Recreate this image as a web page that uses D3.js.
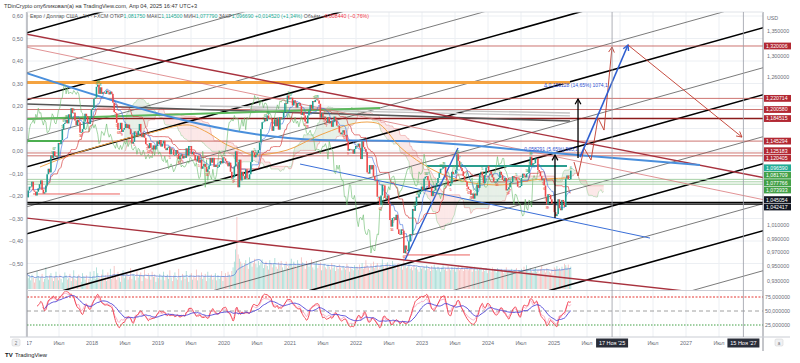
<!DOCTYPE html>
<html>
<head>
<meta charset="utf-8">
<script src="https://cdn.jsdelivr.net/npm/d3@7"></script>
<style>
body { margin: 0; background: #fff; }
svg { display: block; font-family: "Liberation Sans", Arial, sans-serif; }
</style>
</head>
<body>
<svg id="chart" width="800" height="363"></svg>
<script>
// ---- weekly closes EUR/USD, Fridays from 06 Jan 2017 ----
var c2017 = [1.053,1.064,1.070,1.070, 1.078,1.064,1.062,1.056, 1.062,1.067,1.074,1.080,1.065, 1.059,1.061,1.072,1.090, 1.099,1.093,1.121,1.117, 1.128,1.120,1.120,1.119,1.142, 1.140,1.147,1.166,1.175, 1.177,1.182,1.176,1.192, 1.186,1.203,1.194,1.195,1.181, 1.173,1.182,1.178,1.160, 1.161,1.166,1.179,1.193, 1.189,1.177,1.175,1.186,1.200];
var c2018 = [1.203,1.220,1.222,1.242, 1.246,1.229,1.241,1.229, 1.232,1.231,1.229,1.235,1.232, 1.228,1.233,1.229,1.213, 1.196,1.194,1.177,1.165, 1.166,1.177,1.161,1.165,1.168, 1.175,1.168,1.174,1.166, 1.157,1.141,1.144,1.162,1.160, 1.155,1.163,1.175,1.160, 1.152,1.157,1.151,1.140, 1.138,1.133,1.142,1.134,1.131, 1.138,1.131,1.137,1.145];
var c2019 = [1.140,1.147,1.136,1.141, 1.146,1.133,1.130,1.134, 1.136,1.123,1.133,1.131,1.122, 1.122,1.130,1.124,1.115, 1.120,1.123,1.116,1.120,1.117, 1.133,1.121,1.137,1.137, 1.123,1.127,1.122,1.113, 1.111,1.120,1.109,1.114,1.099, 1.103,1.107,1.102,1.094, 1.098,1.104,1.117,1.109, 1.117,1.102,1.105,1.102,1.102, 1.106,1.112,1.108,1.118];
var c2020 = [1.116,1.112,1.109,1.103,1.109, 1.094,1.083,1.085,1.103, 1.128,1.110,1.069,1.114, 1.080,1.094,1.087,1.082, 1.098,1.084,1.082,1.090,1.110, 1.129,1.126,1.118,1.122, 1.125,1.130,1.143,1.166,1.178, 1.179,1.184,1.180,1.190, 1.184,1.185,1.184,1.163, 1.171,1.183,1.171,1.186,1.165, 1.187,1.183,1.186,1.196, 1.212,1.211,1.226,1.219];
var c2021 = [1.222,1.222,1.208,1.217,1.213, 1.204,1.212,1.212,1.207, 1.191,1.195,1.190,1.179, 1.176,1.190,1.198,1.209,1.202, 1.216,1.214,1.218,1.219, 1.217,1.211,1.186,1.194, 1.186,1.188,1.181,1.177,1.187, 1.176,1.180,1.170,1.179, 1.188,1.181,1.172,1.172, 1.160,1.157,1.160,1.164,1.156, 1.156,1.145,1.129,1.132, 1.131,1.131,1.124,1.132,1.137];
var c2022 = [1.136,1.141,1.134,1.115, 1.145,1.135,1.132,1.127, 1.093,1.091,1.105,1.098, 1.105,1.087,1.080,1.080,1.054, 1.054,1.041,1.056,1.073, 1.072,1.052,1.050,1.056, 1.043,1.018,1.008,1.021,1.022, 1.018,1.026,1.004,0.997, 0.996,1.004,1.002,0.969,0.980, 0.974,0.972,0.986,0.997, 0.996,1.035,1.032,1.040, 1.054,1.053,1.058,1.062,1.070];
var c2023 = [1.065,1.083,1.086,1.087, 1.080,1.068,1.069,1.055, 1.063,1.064,1.070,1.076,1.084, 1.092,1.099,1.099,1.102, 1.102,1.085,1.080,1.072, 1.071,1.075,1.094,1.090,1.091, 1.097,1.123,1.112,1.102, 1.100,1.095,1.087,1.080, 1.078,1.070,1.066,1.065,1.057, 1.059,1.051,1.059,1.056, 1.073,1.068,1.091,1.094, 1.088,1.076,1.089,1.101,1.104];
var c2024 = [1.094,1.095,1.090,1.085, 1.078,1.078,1.078,1.082, 1.084,1.094,1.089,1.081,1.079, 1.084,1.064,1.066,1.069, 1.076,1.077,1.087,1.085,1.085, 1.080,1.070,1.069,1.071, 1.084,1.091,1.088,1.085, 1.091,1.092,1.103,1.119,1.105, 1.108,1.108,1.116,1.116, 1.097,1.094,1.087,1.080, 1.083,1.072,1.054,1.042,1.058, 1.057,1.050,1.043,1.043];
var c2025 = [1.030,1.024,1.027,1.050,1.036, 1.033,1.049,1.046,1.038, 1.083,1.088,1.082,1.082, 1.096];

var v2017 = [22,15,18,12,20,16,9,14,25,18,12,16,21,10,14,30,17,13,19,22,15,11,18,24,16,12,20,14,9,17,23,19,13,15,21,11,16,26,14,12,18,20,15,10,22,17,13,19,8,14,24,12];
var v2018 = [18,25,14,30,22,16,12,20,27,15,19,11,23,17,28,14,21,32,18,13,24,16,10,20,26,15,19,22,13,17,29,14,21,18,12,25,16,20,23,11,19,27,15,14,22,18,13,24,17,20,10,16];
var v2019 = [15,21,13,18,24,12,17,20,14,26,16,11,19,23,15,13,28,17,12,21,18,14,25,16,10,20,22,13,18,15,27,12,19,16,23,14,17,21,11,24,15,18,20,13,16,22,12,19,14,17,25,11];
var v2020 = [18,22,16,24,20,17,25,30,38,55,100,48,42,38,35,30,36,40,33,28,44,38,31,36,42,35,30,39,33,37,41,29,34,38,32,27,40,36,30,35,43,31,28,37,33,39,30,26,34,38,29,32];
var v2021 = [36,42,31,38,33,29,40,35,30,44,37,32,28,39,34,31,36,41,30,27,35,38,29,33,37,26,32,35,30,28,34,31,27,36,29,33,25,31,28,34,30,26,32,29,27,35,31,24,30,28,26,33,29];
var v2022 = [31,27,34,29,36,28,32,40,33,30,26,35,31,38,29,33,36,27,30,34,41,32,28,35,37,30,33,29,39,34,31,28,35,36,30,33,27,45,35,29,31,34,28,30,26,33,29,31,27,24,30,28];
var v2023 = [29,31,26,33,28,30,25,32,27,34,29,26,31,28,24,30,33,27,29,25,32,28,26,31,27,30,24,29,33,26,28,31,25,29,27,32,26,28,30,24,27,31,25,29,26,28,30,24,27,25,29,22];
var v2024 = [26,28,24,30,25,27,23,29,26,24,28,25,22,27,30,24,26,23,28,25,21,27,29,24,26,22,28,25,31,27,33,26,24,29,25,23,27,30,24,26,22,28,32,25,27,23,29,26,24,22,27,20];
var v2025 = [30,28,32,27,29,26,31,28,35,33,30,34,29,31];

// price levels drawn on the right scale
var levelValues = [1.320006, 1.220714, 1.200580, 1.184515, 1.145294, 1.125183, 1.120405, 1.096590, 1.081709, 1.077766, 1.073933, 1.045054, 1.042417];
var levelKinds  = ["red","red","red","dark","red","red","red","last","green","green","green","black","black"];
var rightTicks = [1.35, 1.30, 1.26, 1.01, 0.99, 0.97, 0.95, 0.93];
var leftTicks = [0.6, 0.5, 0.4, 0.3, 0.2, 0.1, 0, -0.1, -0.2, -0.3, -0.4, -0.5];
var oscTicks = [75, 50, 25];
var tickYears = [2017, 2018, 2019, 2020, 2021, 2022, 2023, 2024, 2025, 2026, 2027];
var markerDates = [2025.88, 2027.87];
var markerTexts = ["17 Ноя '25", "15 Ноя '27"];

// drawings on the left scale: [year, value]
var channelSlope = 0.0821;            // per year
var channelThick = [0.5244, 0.2267, -0.0711, -0.3689, -0.6667, -0.9733, -1.2711];
var channelThin  = [0.6444, 0.3467, 0.0489, -0.2489, -0.5467, -0.8533, -1.1511, -1.4489];
var redLines = [
  [[2017.0, 0.520], [2028.2, -0.120]],
  [[2017.0, 0.462], [2028.2, -0.218]],
  [[2017.0, -0.298], [2028.2, -0.662]]
];
var blueCurve = [[2017.0, 0.347], [2021.455, 0.049], [2022.667, 0.044], [2025.348, -0.018], [2027.212, -0.062]];
var blueUp = [[2022.742, -0.484], [2023.545, 0.013]];
var blueDown = [[2021.152, -0.058], [2026.455, -0.387]];
var orangeLevel = [[2017.0, 0.3044], [2025.242, 0.3044]];
var orangeCurve = [[2017.212,-0.071],[2017.561,-0.031],[2018.167,0.027],[2018.924,0.084],[2019.439,0.116],[2019.742,0.084],[2020.045,0.027],[2020.242,0.004],[2020.439,-0.018],[2020.955,0.004],[2021.455,0.071],[2022.167,0.129],[2022.318,0.124],[2022.667,0.018],[2023.167,-0.084],[2023.773,-0.142],[2024.182,-0.151],[2024.682,-0.129],[2025.197,-0.120]];
var greyDark = [[2017.0, 0.209], [2025.242, 0.133]];
var greyLight = [[[2019.636, 0.200], [2025.242, 0.169]], [[2020.394, 0.187], [2025.242, 0.156]]];
var greenLong = [[2017.0, 0.142], [2022.364, 0.191]];
var greenShort = [[2017.0, 0.044], [2017.545, 0.044]];
var tealLevel = [[2023.076, -0.067], [2025.197, -0.067]];
var redRays = [[[2017.106, -0.191], [2018.424, -0.191]], [[2022.773, -0.462], [2023.727, -0.462]]];
var blackArrows = [[[2025.015, -0.298], [2025.015, -0.018]], [[2025.364, -0.031], [2025.364, 0.231]]];
var measureTexts = ["0,058291 (5,65%) 583,1", "Δ 0,159128 (14,65%) 1074,1"];
var measureAt = [[2024.55, 0.0], [2024.85, 0.285]];
var redZig = [[2025.303,-0.049],[2025.364,-0.111],[2025.455,0.013],[2025.561,-0.040],[2025.667,0.147],[2025.758,0.093],[2025.879,0.462]];
var blueProj = [[2025.394, -0.027], [2026.121, 0.471]];
var redProj = [[2026.121, 0.471], [2027.848, 0.062]];

// ---------------------------------------------------------------
var closes = [].concat(c2017, c2018, c2019, c2020, c2021, c2022, c2023, c2024, c2025);
var vols = [].concat(v2017, v2018, v2019, v2020, v2021, v2022, v2023, v2024, v2025);
var wt = function (i) { return 2017 + 5 / 365 + i * 7 / 365.25; };

var PL = 27, PR = 763, MT = 12, MB = 290, OT = 291, OB = 337;

var svg = d3.select("#chart");
var x = d3.scaleLinear().domain([2017, 2028]).range([26, 752]);
var yP = d3.scaleLog().domain([1.32, 0.93]).range([46, 280.6]);
var yL = d3.scaleLinear().domain([0.6, -0.5]).range([16, 263.5]);
var yO = d3.scaleLinear().domain([0, 100]).range([339, 283]);
var yV = d3.scaleLinear().domain([0, 100]).range([289, 217]);

var comma = function (s) { return s.replace(".", ",").replace("-", "−"); };

var defs = svg.append("defs");
defs.append("clipPath").attr("id", "cm").append("rect")
    .attr("x", PL).attr("y", MT).attr("width", PR - PL).attr("height", MB - MT);
defs.append("clipPath").attr("id", "co").append("rect")
    .attr("x", PL).attr("y", OT).attr("width", PR - PL).attr("height", OB - OT);
defs.append("clipPath").attr("id", "ct").append("rect")
    .attr("x", PL).attr("y", OB).attr("width", PR - PL).attr("height", 14);

// grid
var grid = svg.append("g").attr("stroke", "#eceff3").attr("stroke-width", 1);
tickYears.forEach(function (yr) {
    [yr, yr + 0.5].forEach(function (t) {
        grid.append("line").attr("x1", x(t)).attr("x2", x(t)).attr("y1", MT).attr("y2", OB);
    });
});
leftTicks.forEach(function (v) {
    grid.append("line").attr("x1", PL).attr("x2", PR).attr("y1", yL(v)).attr("y2", yL(v));
});

var main = svg.append("g").attr("clip-path", "url(#cm)");
var lineL = d3.line().x(function (d) { return x(d[0]); }).y(function (d) { return yL(d[1]); });

// ichimoku from closes
function mid(n, i) {
    var s = closes.slice(Math.max(0, i - n + 1), i + 1);
    return (d3.max(s) + d3.min(s)) / 2;
}
var cloud = [];
for (var i = 51; i < closes.length; i++) {
    var a = (mid(9, i) + mid(26, i)) / 2, b = mid(52, i);
    cloud.push({ t: wt(i + 26), a: a, b: b });
}
var cg = main.append("g");
for (var k = 1; k < cloud.length; k++) {
    var p = cloud[k - 1], q = cloud[k];
    var pts = [[x(p.t), yP(p.a)], [x(q.t), yP(q.a)], [x(q.t), yP(q.b)], [x(p.t), yP(p.b)]];
    cg.append("path").attr("d", "M" + pts.join("L") + "Z")
        .attr("fill", q.a >= q.b ? "rgba(120,170,120,0.18)" : "rgba(239,110,110,0.16)")
        .attr("stroke", "none");
}
var lineP = d3.line().x(function (d) { return x(d[0]); }).y(function (d) { return yP(d[1]); });
main.append("path").attr("d", lineP(cloud.map(function (d) { return [d.t, d.a]; })))
    .attr("fill", "none").attr("stroke", "#81c784").attr("stroke-width", 0.6).attr("opacity", 0.7);
main.append("path").attr("d", lineP(cloud.map(function (d) { return [d.t, d.b]; })))
    .attr("fill", "none").attr("stroke", "#e57373").attr("stroke-width", 0.6).attr("opacity", 0.7);

// volume
var volG = main.append("g").attr("opacity", 0.75);
vols.forEach(function (v, i) {
    if (i >= closes.length) return;
    var up = i === 0 || closes[i] >= closes[i - 1];
    volG.append("rect").attr("x", x(wt(i)) - 0.45).attr("width", 0.9)
        .attr("y", yV(v)).attr("height", yV(0) - yV(v))
        .attr("fill", up ? "#8fd3ca" : "#f4b0ae");
});
var volMa = vols.map(function (v, i) { return [wt(i), d3.mean(vols.slice(Math.max(0, i - 19), i + 1))]; });
main.append("path").attr("d", d3.line().x(function (d) { return x(d[0]); }).y(function (d) { return yV(d[1]); })(volMa))
    .attr("fill", "none").attr("stroke", "#5c7fd6").attr("stroke-width", 0.8);

// black channel
channelThick.forEach(function (v0) {
    main.append("path").attr("d", lineL([[2017, v0], [2028.2, v0 + channelSlope * 11.2]]))
        .attr("stroke", "#000").attr("stroke-width", 1.6).attr("fill", "none");
});
channelThin.forEach(function (v0) {
    main.append("path").attr("d", lineL([[2017, v0], [2028.2, v0 + channelSlope * 11.2]]))
        .attr("stroke", "#222").attr("stroke-width", 0.6).attr("fill", "none");
});

// horizontal levels
var levelStyle = {
    red:   { stroke: "#c0504d", w: 0.8, bg: "#b22833" },
    dark:  { stroke: "#8b1a1a", w: 1.4, bg: "#b22833" },
    last:  { stroke: "#26a69a", w: 0, bg: "#22ab94" },
    green: { stroke: "#9ccc9c", w: 0.9, bg: "#43a047" },
    black: { stroke: "#000", w: 1.4, bg: "#131722" }
};
levelValues.forEach(function (v, i) {
    var s = levelStyle[levelKinds[i]];
    if (!s.w) return;
    main.append("line").attr("x1", PL).attr("x2", PR).attr("y1", yP(v)).attr("y2", yP(v))
        .attr("stroke", s.stroke).attr("stroke-width", s.w);
});

// other drawings
main.append("path").attr("d", lineL(orangeLevel)).attr("stroke", "#f4a340").attr("stroke-width", 3).attr("fill", "none");
main.append("path").attr("d", lineL(greyDark)).attr("stroke", "#555").attr("stroke-width", 1.6).attr("fill", "none");
greyLight.forEach(function (l) {
    main.append("path").attr("d", lineL(l)).attr("stroke", "#c4c4c4").attr("stroke-width", 1.4).attr("fill", "none");
});
main.append("path").attr("d", lineL(greenLong)).attr("stroke", "#5cb85c").attr("stroke-width", 2).attr("fill", "none");
main.append("path").attr("d", lineL(greenShort)).attr("stroke", "#4caf50").attr("stroke-width", 2).attr("fill", "none");
main.append("path").attr("d", lineL(tealLevel)).attr("stroke", "#2a9d8f").attr("stroke-width", 2).attr("fill", "none");
redRays.forEach(function (l) {
    main.append("path").attr("d", lineL(l)).attr("stroke", "#e53935").attr("stroke-width", 0.8).attr("fill", "none");
});
redLines.forEach(function (l, i) {
    main.append("path").attr("d", lineL(l)).attr("fill", "none")
        .attr("stroke", i === 1 ? "#d9777a" : "#a8323e").attr("stroke-width", i === 1 ? 0.8 : 1.4);
});
main.append("path").attr("d", d3.line().curve(d3.curveMonotoneX).x(function (d) { return x(d[0]); }).y(function (d) { return yL(d[1]); })(blueCurve))
    .attr("stroke", "#4a8fdc").attr("stroke-width", 2).attr("fill", "none");
main.append("path").attr("d", d3.line().curve(d3.curveMonotoneX).x(function (d) { return x(d[0]); }).y(function (d) { return yL(d[1]); })(orangeCurve))
    .attr("stroke", "#f0a44b").attr("stroke-width", 1).attr("fill", "none");
main.append("path").attr("d", lineL(blueUp)).attr("stroke", "#2f5fd0").attr("stroke-width", 1.4).attr("fill", "none");
main.append("path").attr("d", lineL(blueDown)).attr("stroke", "#3a6fd8").attr("stroke-width", 1).attr("fill", "none");

// indicator lines on price
var tenkan = closes.map(function (c, i) { return [wt(i), mid(9, i)]; });
var kijun = closes.map(function (c, i) { return [wt(i), mid(26, i)]; }).slice(8);
var chikou = closes.map(function (c, i) { return [wt(i - 26), c]; });
main.append("path").attr("d", lineP(chikou)).attr("fill", "none").attr("stroke", "#66bb6a").attr("stroke-width", 0.6);
main.append("path").attr("d", lineP(kijun)).attr("fill", "none").attr("stroke", "#d84343").attr("stroke-width", 0.7);
main.append("path").attr("d", lineP(tenkan)).attr("fill", "none").attr("stroke", "#3d6ee0").attr("stroke-width", 0.6);

// candles
var cand = main.append("g");
closes.forEach(function (c, i) {
    if (i === 0) return;
    var o = closes[i - 1];
    var top = yP(Math.max(o, c)), bot = yP(Math.min(o, c));
    cand.append("rect").attr("x", x(wt(i)) - 0.8).attr("width", 1.6)
        .attr("y", top).attr("height", Math.max(0.8, bot - top))
        .attr("fill", c >= o ? "#1f9e8f" : "#ef4b4b");
});

// TD setup counts from the closes (5..9 shown)
var tdG = main.append("g").attr("font-size", 3.8).attr("text-anchor", "middle");
var upC = 0, dnC = 0;
for (var j = 4; j < closes.length; j++) {
    if (closes[j] > closes[j - 4]) { upC = upC >= 9 ? 1 : upC + 1; dnC = 0; }
    else if (closes[j] < closes[j - 4]) { dnC = dnC >= 9 ? 1 : dnC + 1; upC = 0; }
    else { upC = 0; dnC = 0; }
    var hi = yP(Math.max(closes[j], closes[j - 1])), lo = yP(Math.min(closes[j], closes[j - 1]));
    if (upC >= 5) tdG.append("text").attr("x", x(wt(j))).attr("y", hi - 1.5).attr("fill", "#2e9e4f").text(upC);
    if (dnC >= 5) tdG.append("text").attr("x", x(wt(j))).attr("y", lo + 4.5).attr("fill", "#e53935").text(dnC);
}

// arrows and projections
function head(g, p1, p2, col, w) {
    var ang = Math.atan2(p2[1] - p1[1], p2[0] - p1[0]), L = 6;
    var a1 = [p2[0] - L * Math.cos(ang - 0.5), p2[1] - L * Math.sin(ang - 0.5)];
    var a2 = [p2[0] - L * Math.cos(ang + 0.5), p2[1] - L * Math.sin(ang + 0.5)];
    g.append("path").attr("d", "M" + a1 + "L" + p2 + "L" + a2)
        .attr("fill", "none").attr("stroke", col).attr("stroke-width", w);
}
function px(d) { return [x(d[0]), yL(d[1])]; }
blackArrows.forEach(function (l) {
    main.append("path").attr("d", lineL(l)).attr("stroke", "#000").attr("stroke-width", 1.3).attr("fill", "none");
    head(main, px(l[0]), px(l[1]), "#000", 1.3);
});
main.append("path").attr("d", lineL(redZig)).attr("stroke", "#c0392b").attr("stroke-width", 0.9).attr("fill", "none");
head(main, px(redZig[redZig.length - 2]), px(redZig[redZig.length - 1]), "#c0392b", 0.9);
main.append("path").attr("d", lineL(blueProj)).attr("stroke", "#2f5fd0").attr("stroke-width", 1.6).attr("fill", "none");
head(main, px(blueProj[0]), px(blueProj[1]), "#2f5fd0", 1.4);
main.append("path").attr("d", lineL(redProj)).attr("stroke", "#c0392b").attr("stroke-width", 0.9).attr("fill", "none");
head(main, px(redProj[0]), px(redProj[1]), "#c0392b", 0.9);
measureTexts.forEach(function (t, i) {
    main.append("text").attr("x", x(measureAt[i][0])).attr("y", yL(measureAt[i][1]))
        .attr("font-size", 5).attr("fill", "#2f4fd0").text(t);
});

// oscillator: RSI of the closes with a slow average
function sma(arr, n) {
    return arr.map(function (d, i) { return [d[0], d3.mean(arr.slice(Math.max(0, i - n + 1), i + 1), function (e) { return e[1]; })]; });
}
function rsi(n) {
    var out = [], ag = 0, al = 0;
    for (var i = 1; i < closes.length; i++) {
        var d = closes[i] - closes[i - 1], g = Math.max(d, 0), l = Math.max(-d, 0);
        if (i <= n) { ag += g / n; al += l / n; }
        else { ag = (ag * (n - 1) + g) / n; al = (al * (n - 1) + l) / n; }
        if (i >= n) out.push([wt(i), al === 0 ? 100 : 100 - 100 / (1 + ag / al)]);
    }
    return out;
}
var rFast = sma(rsi(8), 3), rMid = sma(rsi(12), 2), rSlow = sma(rsi(14), 10);
var osc = svg.append("g").attr("clip-path", "url(#co)");
var lineO = d3.line().curve(d3.curveMonotoneX).x(function (d) { return x(d[0]); }).y(function (d) { return yO(d[1]); });
osc.append("line").attr("x1", PL).attr("x2", PR).attr("y1", yO(75)).attr("y2", yO(75))
    .attr("stroke", "#e53935").attr("stroke-dasharray", "2,1.5");
osc.append("line").attr("x1", PL).attr("x2", PR).attr("y1", yO(50)).attr("y2", yO(50))
    .attr("stroke", "#a0a0a0").attr("stroke-dasharray", "4,3");
osc.append("line").attr("x1", PL).attr("x2", PR).attr("y1", yO(25)).attr("y2", yO(25))
    .attr("stroke", "#43a047").attr("stroke-dasharray", "1.5,1.5");
osc.append("path").attr("d", lineO(rMid)).attr("fill", "none").attr("stroke", "#f48fb1").attr("stroke-width", 0.7);
osc.append("path").attr("d", lineO(rFast)).attr("fill", "none").attr("stroke", "#f23645").attr("stroke-width", 0.9);
osc.append("path").attr("d", lineO(rSlow)).attr("fill", "none").attr("stroke", "#4a3fd6").attr("stroke-width", 0.9);

// frames
var fr = svg.append("g").attr("stroke", "#8a8d96").attr("stroke-width", 1);
fr.append("line").attr("x1", PL).attr("x2", PL).attr("y1", MT).attr("y2", OB);
fr.append("line").attr("x1", PR).attr("x2", PR).attr("y1", MT).attr("y2", OB + 14);
fr.append("line").attr("x1", PL).attr("x2", PR).attr("y1", MB + 0.5).attr("y2", MB + 0.5).attr("stroke", "#c9ccd3");
fr.append("line").attr("x1", 10).attr("x2", 790).attr("y1", OB).attr("y2", OB).attr("stroke", "#c9ccd3");
fr.append("line").attr("x1", PL).attr("x2", PR).attr("y1", MT).attr("y2", MT).attr("stroke", "#e0e3e8");

// left axis
var la = svg.append("g").attr("font-size", 5.5).attr("fill", "#6a6d78").attr("text-anchor", "end");
leftTicks.forEach(function (v) {
    la.append("text").attr("x", 23).attr("y", yL(v) + 2).text(comma(d3.format(".2f")(v)));
});

// right axis
var ra = svg.append("g").attr("font-size", 5.3).attr("fill", "#6a6d78");
ra.append("text").attr("x", 767).attr("y", 20).text("USD");
rightTicks.forEach(function (v) {
    ra.append("text").attr("x", 767).attr("y", yP(v) + 2).text(comma(d3.format(".6f")(v)));
});
oscTicks.forEach(function (v) {
    ra.append("text").attr("x", 765).attr("y", yO(v) + 2).text(comma(d3.format(".6f")(v)));
});

// level labels, spread like the price scale does
var labs = levelValues.map(function (v, i) { return { v: v, kind: levelKinds[i], y0: yP(v) }; });
var LH = 7.4, gs = [];
labs.forEach(function (d) {
    gs.push({ items: [d], sum: d.y0, top: d.y0 });
    while (gs.length > 1) {
        var a = gs[gs.length - 2], b = gs[gs.length - 1];
        if (a.top + a.items.length * LH > b.top) {
            a.items = a.items.concat(b.items); a.sum += b.sum;
            a.top = a.sum / a.items.length - (a.items.length - 1) * LH / 2;
            gs.pop();
        } else break;
    }
});
gs.forEach(function (g) { g.items.forEach(function (d, i) { d.y = g.top + i * LH; }); });
labs.forEach(function (d) {
    svg.append("rect").attr("x", 764).attr("y", d.y - 3.4).attr("width", 27).attr("height", 6.8)
        .attr("fill", levelStyle[d.kind].bg);
    svg.append("text").attr("x", 766).attr("y", d.y + 1.9).attr("font-size", 5.2).attr("fill", "#fff")
        .text(comma(d3.format(".6f")(d.v)));
});

// time axis
var ta = svg.append("g").attr("clip-path", "url(#ct)").attr("font-size", 5.5).attr("fill", "#6a6d78").attr("text-anchor", "middle");
var freeOfMarker = function (t) { return markerDates.every(function (m) { return Math.abs(x(m) - x(t)) > 20; }); };
tickYears.forEach(function (yr) {
    if (freeOfMarker(yr)) ta.append("text").attr("x", x(yr)).attr("y", 345).text(yr);
    if (freeOfMarker(yr + 0.5)) ta.append("text").attr("x", x(yr + 0.5)).attr("y", 345).text("Июл");
});
markerDates.forEach(function (t, i) {
    svg.append("line").attr("x1", x(t)).attr("x2", x(t)).attr("y1", MT).attr("y2", OB)
        .attr("stroke", "#9a9da6").attr("stroke-width", 0.8);
    svg.append("rect").attr("x", x(t) - 16).attr("y", 338.5).attr("width", 32).attr("height", 9).attr("fill", "#2a2e39");
    svg.append("text").attr("x", x(t)).attr("y", 345).attr("font-size", 5.5).attr("fill", "#fff")
        .attr("text-anchor", "middle").text(markerTexts[i]);
});
svg.append("rect").attr("x", 12).attr("y", 339).attr("width", 8).attr("height", 7).attr("rx", 1.5)
    .attr("fill", "#f0f1f4").attr("stroke", "#ccc").attr("stroke-width", 0.5);
svg.append("text").attr("x", 16).attr("y", 344.5).attr("font-size", 4.5).attr("fill", "#777").attr("text-anchor", "middle").text("2");
svg.append("rect").attr("x", 775).attr("y", 339).attr("width", 8).attr("height", 7).attr("rx", 1.5)
    .attr("fill", "#f0f1f4").attr("stroke", "#ccc").attr("stroke-width", 0.5);
svg.append("text").attr("x", 779).attr("y", 344.5).attr("font-size", 4.5).attr("fill", "#777").attr("text-anchor", "middle").text("a");

// header texts
svg.append("text").attr("x", 4).attr("y", 8).attr("font-size", 5.6).attr("fill", "#333")
    .text("TDinCrypto опубликовал(а) на TradingView.com, Апр 04, 2025 16:47 UTC+3");
var lg = svg.append("text").attr("x", 30).attr("y", 18).attr("font-size", 5.2).attr("fill", "#555");
[["Евро / Доллар США · 1Н · FXCM  ОТКР", "#555"], ["1,081750", "#22ab94"], ["  МАКС", "#555"], ["1,114500", "#22ab94"],
 ["  МИН", "#555"], ["1,077790", "#22ab94"], ["  ЗАКР", "#555"], ["1,096690", "#22ab94"],
 ["  +0,014520 (+1,34%)", "#22ab94"], ["  Объём", "#555"], ["  −0,008440 (−0,76%)", "#f23645"]]
    .forEach(function (s) { lg.append("tspan").attr("fill", s[1]).text(s[0]); });

svg.append("text").attr("x", 5).attr("y", 357).attr("font-size", 6).attr("font-weight", "bold").attr("fill", "#131722").text("TV");
svg.append("text").attr("x", 15).attr("y", 357).attr("font-size", 5.8).attr("fill", "#131722").text("TradingView");
</script>
</body>
</html>
